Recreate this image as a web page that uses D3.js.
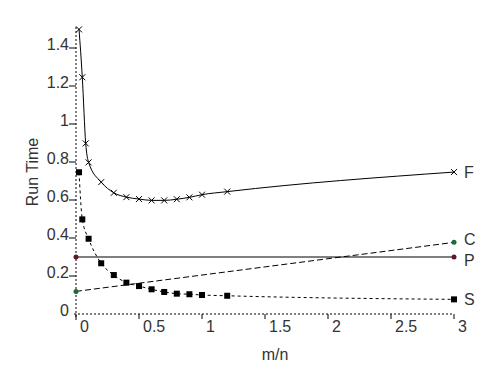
<!DOCTYPE html>
<html>
<head>
<meta charset="utf-8">
<script src="https://cdn.jsdelivr.net/npm/d3@7"></script>
<style>
  body { margin: 0; background: white; }
  text { font-family: "Liberation Sans", Arial, sans-serif; }
</style>
</head>
<body>
<div id="vis"></div>
<script>
// data
let fX = [0.024, 0.05, 0.077, 0.1, 0.2, 0.3, 0.4, 0.5, 0.6, 0.7, 0.8, 0.9, 1.0, 1.2, 3.0]
let fY = [1.498, 1.246, 0.898, 0.798, 0.694, 0.638, 0.615, 0.605, 0.598, 0.598, 0.604, 0.614, 0.628, 0.644, 0.747]

let sX = [0.024, 0.05, 0.1, 0.2, 0.3, 0.4, 0.5, 0.6, 0.7, 0.8, 0.9, 1.0, 1.2, 3.0]
let sY = [0.746, 0.498, 0.396, 0.267, 0.205, 0.165, 0.147, 0.13, 0.116, 0.107, 0.104, 0.1, 0.096, 0.077]

let pX = [0, 3]
let pY = [0.3, 0.3]

let cX = [0, 3]
let cY = [0.119, 0.377]

let xTicks = [0, 0.5, 1, 1.5, 2, 2.5, 3]
let yTicks = [0, 0.2, 0.4, 0.6, 0.8, 1, 1.2, 1.4]
let yTickLabels = ['0', '0.2', '0.4', '0.6', '0.8', '1', '1.2', '1.4']

let width = 500, height = 386

let svg = d3.select('#vis')
  .append('svg')
  .attr('width', width)
  .attr('height', height)
  .style('background-color', 'white')

let x = d3.scaleLinear().domain([0, 3]).range([76, 454])
let y = d3.scaleLinear().domain([0, 1.4]).range([314, 48])

// axes (dotted)
svg.append('line')
  .attr('x1', x(0)).attr('x2', x(0))
  .attr('y1', 27).attr('y2', 320)
  .attr('stroke', 'black').attr('stroke-dasharray', '2,2')
svg.append('line')
  .attr('x1', x(0) - 2).attr('x2', x(3))
  .attr('y1', y(0)).attr('y2', y(0))
  .attr('stroke', 'black').attr('stroke-dasharray', '2,2')

// y ticks
svg.selectAll('.ytick')
  .data(yTicks.slice(1))
  .enter().append('line')
  .attr('x1', x(0) - 7).attr('x2', x(0))
  .attr('y1', d => y(d)).attr('y2', d => y(d))
  .attr('stroke', 'black')
svg.selectAll('.ylab')
  .data(yTicks)
  .enter().append('text')
  .attr('x', x(0) - 7)
  .attr('y', d => y(d) - 4)
  .attr('dy', '0.35em')
  .attr('text-anchor', 'end')
  .attr('font-size', 16)
  .attr('fill', '#333')
  .text((d, i) => yTickLabels[i])

// x ticks
svg.selectAll('.xtick')
  .data(xTicks)
  .enter().append('line')
  .attr('x1', d => x(d)).attr('x2', d => x(d))
  .attr('y1', y(0)).attr('y2', y(0) + 5)
  .attr('stroke', 'black')
svg.selectAll('.xlab')
  .data(xTicks)
  .enter().append('text')
  .attr('x', d => x(d) + 4)
  .attr('y', y(0) + 18)
  .attr('font-size', 16)
  .attr('fill', '#333')
  .text(d => d)

// axis titles
svg.append('text')
  .attr('transform', 'translate(38,172) rotate(-90)')
  .attr('text-anchor', 'middle')
  .attr('font-size', 16)
  .attr('fill', '#333')
  .text('Run Time')
svg.append('text')
  .attr('x', 275).attr('y', 360)
  .attr('text-anchor', 'middle')
  .attr('font-size', 16)
  .attr('fill', '#333')
  .text('m/n')

let line = d3.line().x(d => x(d[0])).y(d => y(d[1])).curve(d3.curveMonotoneX)

let fData = d3.zip(fX, fY)
let sData = d3.zip(sX, sY)
let pData = d3.zip(pX, pY)
let cData = d3.zip(cX, cY)

// C line
svg.append('path').datum(cData)
  .attr('d', line).attr('fill', 'none')
  .attr('stroke', 'black').attr('stroke-dasharray', '6,3')
// P line
svg.append('path').datum(pData)
  .attr('d', line).attr('fill', 'none')
  .attr('stroke', 'black')
// S line
svg.append('path').datum(sData)
  .attr('d', line).attr('fill', 'none')
  .attr('stroke', 'black').attr('stroke-dasharray', '3,3')
// F line
svg.append('path').datum(fData)
  .attr('d', line).attr('fill', 'none')
  .attr('stroke', 'black')

// markers
svg.selectAll('.fmark')
  .data(fData)
  .enter().append('path')
  .attr('d', d => {
    let px = x(d[0]), py = y(d[1])
    return `M${px - 3},${py - 3}L${px + 3},${py + 3}M${px - 3},${py + 3}L${px + 3},${py - 3}`
  })
  .attr('stroke', 'black')

svg.selectAll('.smark')
  .data(sData)
  .enter().append('rect')
  .attr('x', d => x(d[0]) - 3)
  .attr('y', d => y(d[1]) - 3)
  .attr('width', 6).attr('height', 6)
  .attr('fill', 'black')

svg.selectAll('.pmark')
  .data(pData)
  .enter().append('circle')
  .attr('cx', d => x(d[0])).attr('cy', d => y(d[1]))
  .attr('r', 2.5).attr('fill', '#5a1a28')

svg.selectAll('.cmark')
  .data(cData)
  .enter().append('circle')
  .attr('cx', d => x(d[0])).attr('cy', d => y(d[1]))
  .attr('r', 2.5).attr('fill', '#1d6b3a')

// series labels
let names = ['F', 'C', 'P', 'S']
let lastY = [fY[fY.length - 1], cY[1], pY[1], sY[sY.length - 1]]
svg.selectAll('.slab')
  .data(names)
  .enter().append('text')
  .attr('x', 464)
  .attr('y', (d, i) => y(lastY[i]) + (d == 'P' ? 3 : d == 'C' ? -3 : 0))
  .attr('dy', '0.35em')
  .attr('font-size', 16)
  .attr('fill', '#333')
  .text(d => d)
</script>
</body>
</html>
